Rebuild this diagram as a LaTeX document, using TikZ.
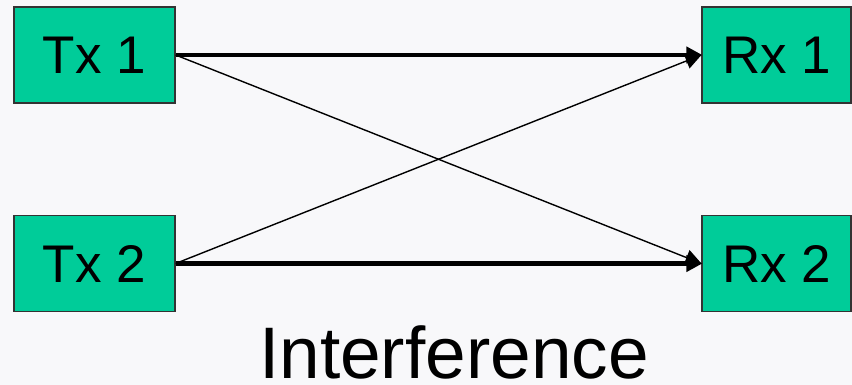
\documentclass[tikz,border=0pt]{standalone}
\usepackage{fontspec}
\setmainfont{Liberation Sans}
\usetikzlibrary{arrows.meta}
\definecolor{boxgreen}{HTML}{00CC99}
\definecolor{paper}{HTML}{F8F8FA}
\tikzset{
  unit/.style={draw=black!80,fill=boxgreen,line width=1.2pt,inner sep=0pt,
    minimum height=96pt,font=\fontsize{53}{60}\selectfont},
  direct/.style={line width=4.5pt,-{Triangle[length=16pt,width=16pt]},shorten >=-1pt},
  cross/.style={line width=1.4pt,-{Triangle[length=16pt,width=16pt]}}
}
\begin{document}
\begin{tikzpicture}[x=1pt,y=-1pt]
  \fill[paper] (0,0) rectangle (852,385);
  \useasboundingbox (0,0) rectangle (852,385);
  \node[unit,minimum width=161pt] (tx1) at (94.5,55) {Tx 1};
  \node[unit,minimum width=161pt] (tx2) at (94.5,263.5) {Tx 2};
  \node[unit,minimum width=149pt] (rx1) at (776.5,55) {Rx 1};
  \node[unit,minimum width=149pt] (rx2) at (776.5,263.5) {Rx 2};
  % direct links
  \draw[direct] (tx1.east) -- (rx1.west);
  \draw[direct] (tx2.east) -- (rx2.west);
  % interference links
  \draw[cross] (tx1.east) -- (rx2.west);
  \draw[cross] (tx2.east) -- (rx1.west);
  \node[font=\fontsize{73}{80}\selectfont,inner sep=0pt,anchor=base] (title) at (454,378) {Interference};
\end{tikzpicture}
\end{document}
